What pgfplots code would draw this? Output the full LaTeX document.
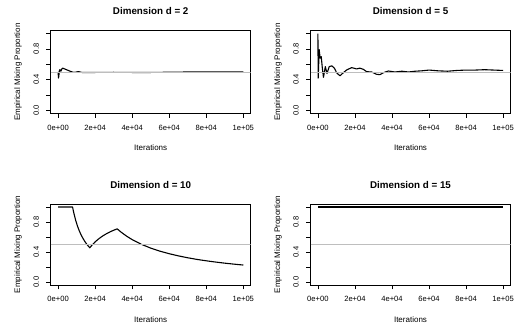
\documentclass[border=0pt]{standalone}
\usepackage{fontspec}
\setmainfont{Liberation Sans}
\usepackage{pgfplots}
\pgfplotsset{compat=1.18}
\definecolor{rgrey}{RGB}{190,190,190}
\pgfplotsset{
  rpanel/.style={
    scale only axis, width=200pt, anchor=south west,
    xmin=-4000, xmax=104000, ymin=-0.04, ymax=1.04,
    axis line style={black, line width=0.7pt},
    tick align=outside, major tick length=4.5pt,
    every tick/.style={black, line width=0.6pt},
    xtick pos=bottom, ytick pos=left,
    xtick={0,20000,40000,60000,80000,100000},
    xticklabels={0e+00,2e+04,4e+04,6e+04,8e+04,1e+05},
    ytick={0,0.2,0.4,0.6,0.8,1.0},
    yticklabels={0.0,,0.4,,0.8,},
    scaled x ticks=false,
    tick label style={font=\fontsize{7.6}{9}\selectfont},
    xticklabel style={anchor=base, inner sep=0pt, yshift=-12.3pt},
    yticklabel style={xshift=-7pt, rotate=90, anchor=south, inner sep=0pt},
    xlabel={Iterations},
    ylabel={Empirical Mixing Proportion},
    every axis x label/.style={font=\fontsize{8}{9.6}\selectfont, at={(axis description cs:0.5,0)}, anchor=base, yshift=-37.5pt},
    every axis y label/.style={font=\fontsize{8}{9.6}\selectfont, at={(axis description cs:-0.1525,0.5)}, rotate=90, anchor=base},
    title style={font=\bfseries\fontsize{9.8}{11}\selectfont, at={(axis description cs:0.5,1)}, anchor=base, yshift=9.5pt},
    clip=true,
  },
  blk/.style={black, line width=1.1pt, line join=round},
  gry/.style={rgrey, line width=0.9pt},
}
\begin{document}
\begin{tikzpicture}
\useasboundingbox (0,0) rectangle (514pt,328pt);
% d = 2
\begin{axis}[rpanel, at={(50.7pt,214.5pt)}, height=83pt, title={Dimension d = 2}]
\addplot[blk] coordinates {
(0,0.50) (200,0.42) (400,0.45) (700,0.52) (1000,0.53) (1500,0.51) (2000,0.54)
(2500,0.55) (3000,0.545) (3500,0.54) (4500,0.53) (5500,0.52) (7000,0.505)
(8500,0.495) (10000,0.50) (11000,0.505) (13000,0.493) (20000,0.494) (30000,0.496)
(40000,0.494) (50000,0.494) (60000,0.497) (70000,0.50) (80000,0.501) (90000,0.501) (100000,0.501)
};
\addplot[gry] coordinates {(-4000,0.5) (104000,0.5)};
\end{axis}
% d = 5
\begin{axis}[rpanel, at={(310.5pt,214.5pt)}, height=83pt, title={Dimension d = 5}]
\addplot[blk] coordinates {
(0,1.00) (150,0.42) (700,0.79) (1200,0.68) (1800,0.70) (2400,0.55) (3000,0.43)
(4000,0.57) (4900,0.48) (6100,0.57) (7500,0.58) (8900,0.55) (10100,0.49)
(11900,0.45) (13700,0.49) (15500,0.526) (18200,0.557) (20900,0.54) (22700,0.55)
(24500,0.535) (26300,0.504) (29000,0.50) (31700,0.47) (33500,0.465) (35300,0.49)
(38000,0.513) (41600,0.50) (45300,0.51) (48900,0.50) (52500,0.51) (56000,0.515)
(60000,0.525) (65000,0.515) (70000,0.51) (75000,0.52) (80000,0.525) (85000,0.525)
(90000,0.53) (95000,0.525) (100000,0.52)
};
\addplot[gry] coordinates {(-4000,0.5) (104000,0.5)};
\end{axis}
% d = 10
\begin{axis}[rpanel, at={(50.7pt,43pt)}, height=81pt, title={Dimension d = 10}]
\addplot[blk] coordinates {
(0,1.0) (7800,1.0) (8500,0.918) (9500,0.821) (10500,0.743) (11500,0.678)
(12500,0.624) (13500,0.578) (14500,0.538) (15500,0.503) (16500,0.473) (17100,0.456)
(18000,0.483) (20000,0.535) (22000,0.577) (24000,0.6125) (26000,0.642) (28000,0.668)
(30000,0.69) (31900,0.7085) (34000,0.665) (37000,0.611) (40000,0.565) (45000,0.502)
(50000,0.452) (55000,0.411) (60000,0.377) (65000,0.348) (70000,0.323) (75000,0.301)
(80000,0.2825) (85000,0.266) (90000,0.251) (95000,0.238) (100000,0.226)
};
\addplot[gry] coordinates {(-4000,0.5) (104000,0.5)};
\end{axis}
% d = 15
\begin{axis}[rpanel, at={(310.5pt,43pt)}, height=81pt, title={Dimension d = 15}]
\addplot[blk] coordinates {(0,1.0) (100000,1.0)};
\addplot[gry] coordinates {(-4000,0.5) (104000,0.5)};
\end{axis}
\end{tikzpicture}
\end{document}
